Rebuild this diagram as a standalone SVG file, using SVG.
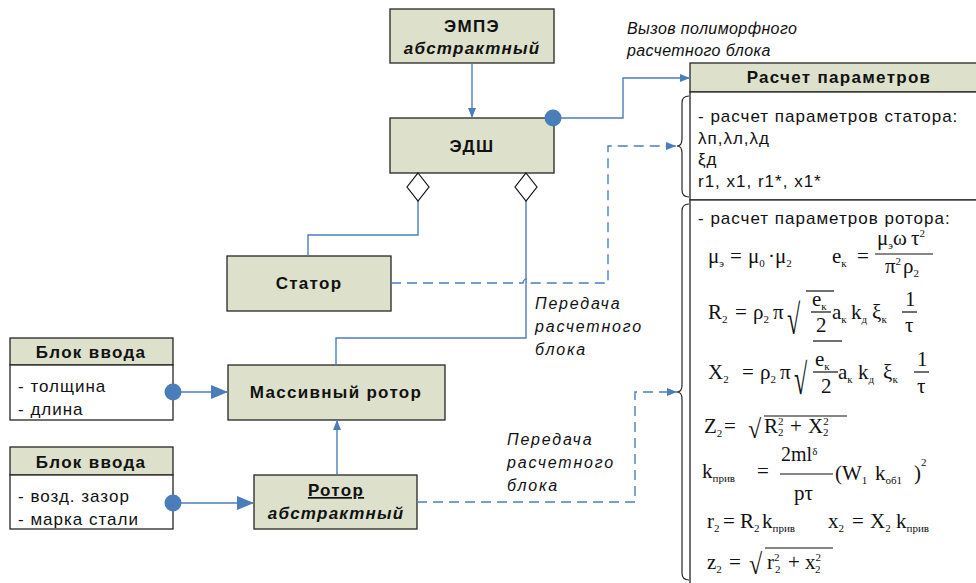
<svg xmlns="http://www.w3.org/2000/svg" width="976" height="583" viewBox="0 0 976 583">
<defs>
<style>
.node{fill:#dde1cc;stroke:#262626;stroke-width:1.3}
.wb{fill:#ffffff;stroke:#262626;stroke-width:1.3}
.c{fill:none;stroke:#4a7ebb;stroke-width:1.4}
.d{fill:none;stroke:#4a7ebb;stroke-width:1.4;stroke-dasharray:10,6}
.dot{fill:#4a7ebb}
.br{fill:none;stroke:#262626;stroke-width:1.2}
text{font-family:"Liberation Sans",Arial,sans-serif;fill:#111}
.nb{font-size:17px;font-weight:bold;letter-spacing:1.3px;text-anchor:middle}
.bi{font-size:17px;font-weight:bold;font-style:italic;letter-spacing:1.2px;text-anchor:middle}
.bt{font-size:17px;letter-spacing:1px}
.lab{font-size:16px;font-style:italic;letter-spacing:1.8px}
.lab2{font-size:16px;font-style:italic;letter-spacing:0.4px}
.m{font-family:"Liberation Serif","Times New Roman",serif;font-size:21px}
.s{font-size:11px}
.rad{font-family:"Liberation Serif","Times New Roman",serif;font-size:24px}
.vin{stroke:#111;stroke-width:1.2}
</style>
<marker id="as" viewBox="0 0 10 8" refX="10" refY="4" markerWidth="10" markerHeight="8" markerUnits="userSpaceOnUse" orient="auto"><path d="M0,0 L10,4 L0,8 Z" fill="#4a7ebb"/></marker>
<marker id="al" viewBox="0 0 17 14" refX="17" refY="7" markerWidth="17" markerHeight="14" markerUnits="userSpaceOnUse" orient="auto"><path d="M0,0 L17,7 L0,14 Z" fill="#4a7ebb"/></marker>
</defs>
<rect width="976" height="583" fill="#ffffff"/>

<g id="label-call">
<text class="lab2" x="627" y="34">Вызов полиморфного</text>
<text class="lab2" x="627" y="56">расчетного блока</text>
</g>
<g id="label-transfer1">
<text class="lab" x="535" y="309">Передача</text>
<text class="lab" x="535" y="332">расчетного</text>
<text class="lab" x="535" y="355">блока</text>
</g>
<g id="label-transfer2">
<text class="lab" x="507" y="445">Передача</text>
<text class="lab" x="507" y="468">расчетного</text>
<text class="lab" x="507" y="491">блока</text>
</g>

<g id="empe">
<rect class="node" x="390" y="9" width="164" height="54"/>
<text class="nb" x="472" y="32">ЭМПЭ</text>
<text class="bi" x="472" y="54">абстрактный</text>
</g>
<g id="edsh">
<rect class="node" x="390" y="118" width="164" height="55"/>
<text class="nb" x="472" y="152">ЭДШ</text>
</g>
<g id="stator">
<rect class="node" x="227" y="256" width="164" height="55"/>
<text class="nb" x="309" y="289">Статор</text>
</g>
<g id="massive-rotor">
<rect class="node" x="228" y="365" width="217" height="55"/>
<text class="nb" x="336" y="398">Массивный ротор</text>
</g>
<g id="rotor">
<rect class="node" x="254" y="475" width="163" height="54"/>
<text class="nb" x="336" y="496" text-decoration="underline">Ротор</text>
<text class="bi" x="336" y="519">абстрактный</text>
</g>
<g id="input1">
<rect class="node" x="10" y="338" width="163" height="27"/>
<rect class="wb" x="10" y="365" width="163" height="55"/>
<text class="nb" x="91" y="358">Блок ввода</text>
<text class="bt" x="18" y="392">- толщина</text>
<text class="bt" x="18" y="415">- длина</text>
</g>
<g id="input2">
<rect class="node" x="10" y="447" width="163" height="28"/>
<rect class="wb" x="10" y="475" width="163" height="54"/>
<text class="nb" x="91" y="468">Блок ввода</text>
<text class="bt" x="18" y="502">- возд. зазор</text>
<text class="bt" x="18" y="525">- марка стали</text>
</g>

<g id="calc">
<rect class="node" x="690" y="63" width="300" height="29"/>
<rect class="wb" x="690" y="92" width="300" height="108"/>
<rect class="wb" x="690" y="200" width="300" height="400"/>
<text class="nb" x="839" y="83">Расчет параметров</text>
<path class="br" d="M689,96 Q682,96 682,103 L682,139 Q682,146 677,146 Q682,146 682,153 L682,190 Q682,197 689,197"/>
<path class="br" d="M689,204 Q682,204 682,211 L682,385 Q682,392 677,392 Q682,392 682,399 L682,573 Q682,580 689,580"/>
<text class="bt" x="698" y="122">- расчет параметров статора:</text>
<text class="bt" x="698" y="144">λп,λл,λд</text>
<text class="bt" x="698" y="165">ξд</text>
<text class="bt" x="698" y="187">r1, x1, r1*, x1*</text>
<text class="bt" x="698" y="224">- расчет параметров ротора:</text>

<text class="m" x="708" y="263">μ<tspan class="s" dy="4">э</tspan><tspan dy="-4" x="730">=</tspan><tspan x="748">μ</tspan><tspan class="s" dy="4">0</tspan><tspan dy="-4" x="768">·</tspan><tspan x="775">μ</tspan><tspan class="s" dy="4">2</tspan></text>
<text class="m" x="832" y="263">e<tspan class="s" dy="4">к</tspan><tspan dy="-4" x="857">=</tspan></text>
<text class="m" x="877" y="245">μ<tspan class="s" dy="4">э</tspan><tspan dy="-4" x="893">ω</tspan><tspan x="911">τ</tspan><tspan class="s" dy="-8">2</tspan></text>
<line class="vin" x1="875" y1="254" x2="933" y2="254"/>
<text class="m" x="885" y="273">π<tspan class="s" dy="-8">2</tspan><tspan dy="8" x="903">ρ</tspan><tspan class="s" dy="4">2</tspan></text>

<text class="m" x="708" y="319">R<tspan class="s" dy="4">2</tspan><tspan dy="-4" x="735">=</tspan><tspan x="753">ρ</tspan><tspan class="s" dy="4">2</tspan><tspan dy="-4" x="773">π</tspan></text>
<text class="rad" transform="translate(787,334) scale(1,1.75)" x="0" y="0">√</text>
<line class="vin" x1="806" y1="291" x2="834" y2="291"/>
<text class="m" x="812" y="306">e<tspan class="s" dy="4">к</tspan></text>
<line class="vin" x1="811" y1="312" x2="831" y2="312"/>
<text class="m" x="816" y="332">2</text>
<text class="m" x="832" y="319">a<tspan class="s" dy="4">к</tspan><tspan dy="-4" x="851">k</tspan><tspan class="s" dy="4">д</tspan><tspan dy="-4" x="872">ξ</tspan><tspan class="s" dy="4">к</tspan></text>
<text class="m" x="905" y="306">1</text>
<line class="vin" x1="902" y1="312" x2="917" y2="312"/>
<text class="m" x="905" y="332">τ</text>

<text class="m" x="708" y="379">X<tspan class="s" dy="4">2</tspan><tspan dy="-4" x="742">=</tspan><tspan x="760">ρ</tspan><tspan class="s" dy="4">2</tspan><tspan dy="-4" x="780">π</tspan></text>
<text class="rad" transform="translate(794,394) scale(1,1.8)" x="0" y="0">√</text>
<line class="vin" x1="813" y1="341" x2="842" y2="341"/>
<text class="m" x="815" y="366">e<tspan class="s" dy="4">к</tspan></text>
<line class="vin" x1="813" y1="372" x2="838" y2="372"/>
<text class="m" x="821" y="393">2</text>
<text class="m" x="838" y="379">a<tspan class="s" dy="4">к</tspan><tspan dy="-4" x="858">k</tspan><tspan class="s" dy="4">д</tspan><tspan dy="-4" x="883">ξ</tspan><tspan class="s" dy="4">к</tspan></text>
<text class="m" x="917" y="366">1</text>
<line class="vin" x1="914" y1="372" x2="929" y2="372"/>
<text class="m" x="917" y="393">τ</text>

<text class="m" x="704" y="433">Z<tspan class="s" dy="4">2</tspan><tspan dy="-4" x="724">=</tspan></text>
<text class="rad" transform="translate(748,438) scale(1,1.1)" x="0" y="0">√</text>
<line class="vin" x1="764" y1="416" x2="847" y2="416"/>
<text class="m" x="764" y="433">R<tspan class="s" dy="-8">2</tspan><tspan class="s" x="778" dy="11">2</tspan><tspan dy="-3" x="790">+</tspan><tspan x="808">X</tspan><tspan class="s" dy="-8">2</tspan><tspan class="s" x="823" dy="11">2</tspan></text>

<text class="m" x="702" y="478">k<tspan class="s" dy="4">прив</tspan><tspan dy="-4" x="757">=</tspan></text>
<text class="m" x="781" y="461" style="font-size:20px">2ml<tspan class="s" dy="-6">δ</tspan></text>
<line class="vin" x1="780" y1="474" x2="833" y2="474"/>
<text class="m" x="794" y="500">pτ</text>
<text class="m" x="835" y="480">(W<tspan class="s" dy="4">1</tspan><tspan dy="-4" x="875">k</tspan><tspan class="s" dy="4">об1</tspan><tspan dy="-4" x="914">)</tspan><tspan class="s" dy="-14">2</tspan></text>

<text class="m" x="707" y="528">r<tspan class="s" dy="4">2</tspan><tspan dy="-4" x="723">=</tspan><tspan x="740">R</tspan><tspan class="s" dy="4">2</tspan><tspan dy="-4" x="762">k</tspan><tspan class="s" dy="4">прив</tspan></text>
<text class="m" x="828" y="528">x<tspan class="s" dy="4">2</tspan><tspan dy="-4" x="852">=</tspan><tspan x="870">X</tspan><tspan class="s" dy="4">2</tspan><tspan dy="-4" x="896">k</tspan><tspan class="s" dy="4">прив</tspan></text>

<text class="m" x="707" y="569">z<tspan class="s" dy="4">2</tspan><tspan dy="-4" x="729">=</tspan></text>
<text class="rad" transform="translate(749,574) scale(1,1.2)" x="0" y="0">√</text>
<line class="vin" x1="765" y1="548" x2="833" y2="548"/>
<text class="m" x="767" y="569">r<tspan class="s" dy="-8">2</tspan><tspan class="s" x="775" dy="12">2</tspan><tspan dy="-4" x="788">+</tspan><tspan x="805">x</tspan><tspan class="s" dy="-8">2</tspan><tspan class="s" x="815" dy="12">2</tspan></text>
</g>

<g id="connectors">
<path class="c" d="M472,63 V118" marker-end="url(#as)"/>
<path class="c" d="M553,118 H623 V78 H690" marker-end="url(#as)"/>
<circle class="dot" cx="553" cy="118" r="8.5"/>
<path class="c" d="M418,201 V235 H308 V256"/>
<path class="c" d="M526,201 V338 H336 V365"/>
<path class="d" d="M391,283 H523 A4,4 0 0 1 531,283 H608 V146 H676" marker-end="url(#as)"/>
<path class="d" d="M417,502 H635 V392 H677" marker-end="url(#as)"/>
<path class="c" d="M337,475 V420" marker-end="url(#as)"/>
<path class="c" d="M173,392 H228" marker-end="url(#al)"/>
<circle class="dot" cx="173" cy="392" r="8.5"/>
<path class="c" d="M173,503 H254" marker-end="url(#al)"/>
<circle class="dot" cx="173" cy="503" r="8.5"/>
<path d="M418,173 L429,187 L418,201 L407,187 Z" fill="#ffffff" stroke="#111" stroke-width="1.2"/>
<path d="M526,173 L537,187 L526,201 L515,187 Z" fill="#ffffff" stroke="#111" stroke-width="1.2"/>
</g>
</svg>
